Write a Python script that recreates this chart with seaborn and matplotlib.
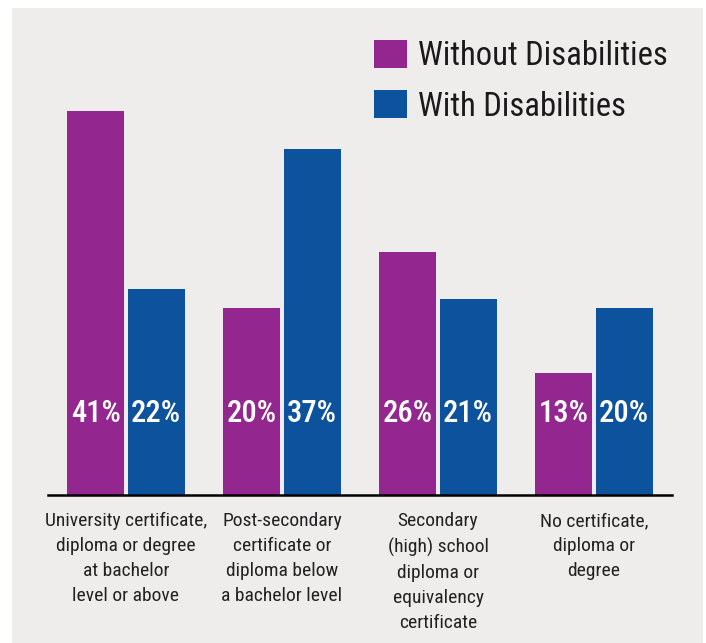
import pandas as pd
import seaborn as sns
import matplotlib.pyplot as plt
from matplotlib.patches import Rectangle

# Datos
categorias = [
    "University certificate,\ndiploma or degree\nat bachelor\nlevel or above",
    "Post-secondary\ncertificate or\ndiploma below\na bachelor level",
    "Secondary\n(high) school\ndiploma or\nequivalency\ncertificate",
    "No certificate,\ndiploma or\ndegree",
]
sin_discapacidad = [41, 20, 26, 13]
con_discapacidad = [22, 37, 21, 20]
grupos = ["Without Disabilities", "With Disabilities"]
colores = ["#93278f", "#0d529c"]

df = pd.DataFrame({
    "categoria": categorias * 2,
    "grupo": [grupos[0]] * 4 + [grupos[1]] * 4,
    "valor": sin_discapacidad + con_discapacidad,
})

sns.set_style("white")
plt.rcParams["font.family"] = ["Roboto Condensed", "Liberation Sans", "DejaVu Sans"]

fig = plt.figure(figsize=(7.06, 6.43), dpi=100)
fondo = Rectangle((12 / 706, 0), 691 / 706, 635 / 643,
                  transform=fig.transFigure, facecolor="#eeedeb",
                  edgecolor="none", zorder=-10)
fig.add_artist(fondo)
# 9.36 px por punto porcentual, base en y=495 px
ax = fig.add_axes([48 / 706, 1 - 495 / 643, 624 / 706, 421 / 643])
ax.set_facecolor("none")
ax.set_zorder(1)

sns.barplot(data=df, x="categoria", y="valor", hue="grupo", palette=colores,
            width=0.77, gap=0.05, ax=ax, saturation=1, legend=True,
            linewidth=0)

ax.set_xlim(-0.5, 3.5)
ax.set_ylim(0, 45)
ax.set_xlabel("")
ax.set_ylabel("")
ax.set_yticks([])
for lado in ["top", "right", "left"]:
    ax.spines[lado].set_visible(False)
ax.spines["bottom"].set_color("black")
ax.spines["bottom"].set_linewidth(1.8)
ax.tick_params(axis="x", which="major", length=0, pad=12.5, labelsize=14,
               colors="#222222")
ax.set_xticks([-0.5, 0.5, 1.5, 2.5, 3.5], minor=True)
ax.tick_params(axis="x", which="minor", direction="in", length=9.5, width=1.8,
               color="black")
for t in ax.get_xticklabels():
    t.set_multialignment("center")
    t.set_linespacing(1.5)

# Etiquetas de porcentaje
for i in range(len(categorias)):
    for j, serie in enumerate([sin_discapacidad, con_discapacidad]):
        ax.text(i + (j - 0.5) * 0.385, 8.7, f"{serie[i]}%", ha="center",
                va="center", color="white", fontsize=22, fontweight="medium")

handles, labels = ax.get_legend_handles_labels()
ax.legend(handles, labels, loc="upper left",
          bbox_to_anchor=(374 / 706, 1 - 40 / 643),
          bbox_transform=fig.transFigure, frameon=False, fontsize=23.5,
          handlelength=1.01, handleheight=0.95, handletextpad=0.34,
          labelspacing=0.55, borderpad=0, borderaxespad=0,
          labelcolor="#1a1a1a")

fig.savefig("out.png", dpi=100)
